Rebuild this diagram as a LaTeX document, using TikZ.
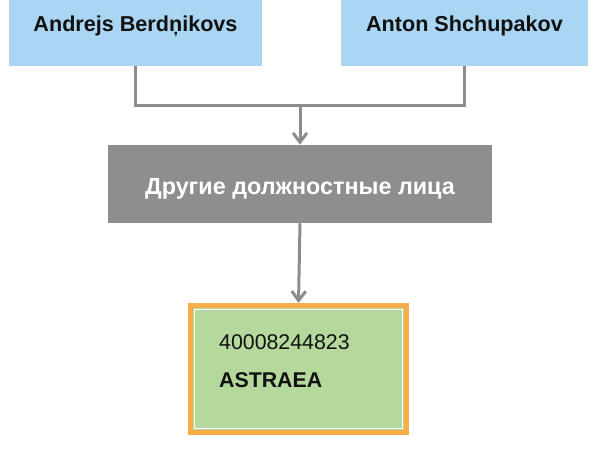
\documentclass[tikz,border=0pt]{standalone}
\usepackage{fontspec}
\setmainfont{Liberation Sans}
\usetikzlibrary{arrows.meta,positioning}
\definecolor{orgInk}{HTML}{111111}
\definecolor{orgBlue}{HTML}{ABD6F3}
\definecolor{orgGray}{HTML}{8E8E8E}
\definecolor{orgLine}{HTML}{8C8C8C}
\definecolor{orgGreen}{HTML}{B5D99C}
\definecolor{orgOrange}{HTML}{F7AE48}
\tikzset{
  every picture/.style={font=\fontsize{16}{19.2}\selectfont, text=orgInk},
  org person/.style={fill=orgBlue, font=\fontsize{16.2}{19.4}\selectfont\bfseries,
    minimum height=63pt, text height=11.6pt, text depth=0pt, inner sep=0pt},
  org group/.style={fill=orgGray, text=white, font=\fontsize{17.5}{21}\selectfont\bfseries,
    minimum width=288pt, minimum height=58.5pt, text height=16pt, text depth=0pt},
  org entity/.style={fill=orgGreen, draw=orgOrange, line width=3.75pt,
    minimum width=162pt, minimum height=95.25pt, inner xsep=21.4pt, inner ysep=2pt,
    text width=119pt, align=left, text height=11.5pt, text depth=40pt},
  org link/.style={draw=orgLine, line width=2.25pt},
  org arrow/.style={-{Straight Barb[length=7pt,width=10.5pt]}, draw=orgLine, line width=2.25pt}
}
\begin{document}
\begin{tikzpicture}[x=0.75pt,y=0.75pt]
  \clip (0,0) rectangle (600,457);
  \node[org person, minimum width=189.75pt] (andrejs) at (135.5,433) {Andrejs Berdņikovs};
  \node[org person, minimum width=185.25pt] (anton) at (464.5,433) {Anton Shchupakov};
  \node[org group] (officers) at (300,273) {Другие должностные лица};
  \node[org entity] (astraea) at (298.5,88) {40008244823\\[9.3pt]\textbf{ASTRAEA}};
  \draw[white, line width=1.1pt] ([shift={(6.5,6.5)}]astraea.south west) rectangle ([shift={(-6.5,-6.5)}]astraea.north east);
  \coordinate (join) at (300,351);
  \draw[org link] (andrejs.south) |- (join);
  \draw[org link] (anton.south) |- (join);
  \draw[org arrow] (join) -- (officers.north);
  \draw[org arrow] (officers.south) -- (astraea.north);
\end{tikzpicture}
\end{document}
